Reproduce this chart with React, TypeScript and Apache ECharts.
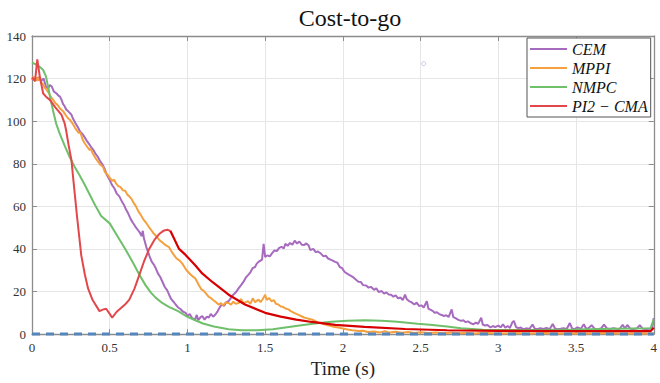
import React, { useEffect, useRef } from "react";
import * as echarts from "echarts";

// Cost-to-go traces over time, [time s, cost]
const cemData: number[][] = [
  [0, 120], [0.02, 119], [0.04, 120.5], [0.06, 119], [0.075, 120], [0.09, 116], [0.105, 115.5],
  [0.115, 117], [0.127, 116.3], [0.14, 114], [0.158, 113], [0.17, 112], [0.18, 111.5], [0.19, 110],
  [0.2, 108], [0.21, 107], [0.22, 105.5], [0.235, 104.5], [0.254, 103], [0.265, 101], [0.28, 99],
  [0.296, 97], [0.31, 95], [0.325, 94], [0.339, 92.4], [0.355, 90.5], [0.37, 89], [0.38, 87.8],
  [0.395, 86.5], [0.41, 84.5], [0.424, 83.2], [0.44, 81], [0.455, 79.5], [0.466, 77.8], [0.48, 75],
  [0.5, 72.4], [0.515, 70], [0.53, 68.5], [0.545, 66], [0.562, 64.7], [0.58, 62], [0.593, 60.5],
  [0.605, 58.5], [0.62, 56.5], [0.635, 54], [0.648, 52.4], [0.665, 50.5], [0.68, 49], [0.695, 47.5],
  [0.705, 46], [0.713, 48.5], [0.72, 45], [0.735, 41], [0.754, 37], [0.77, 34], [0.785, 32.5],
  [0.797, 30.8], [0.81, 28.5], [0.825, 26.8], [0.839, 24.6], [0.855, 22], [0.87, 20.5], [0.882, 18.5],
  [0.895, 16.5], [0.91, 15.2], [0.924, 13.9], [0.94, 12.5], [0.955, 11.8], [0.97, 10.6], [0.988, 10],
  [1.0, 8.5], [1.015, 9.5], [1.03, 7.5], [1.05, 6.9], [1.06, 9], [1.07, 6.5], [1.085, 8], [1.095, 8.5],
  [1.11, 6.8], [1.125, 8.2], [1.137, 7.7], [1.15, 9.5], [1.165, 8.2], [1.18, 9.2], [1.195, 10.8],
  [1.21, 12.8], [1.22, 13.9], [1.235, 13.2], [1.25, 15], [1.265, 15.4], [1.28, 17], [1.295, 18.5],
  [1.31, 19.5], [1.33, 21.6], [1.345, 23], [1.36, 24.5], [1.375, 26.5], [1.39, 27.7], [1.405, 29],
  [1.42, 31], [1.435, 31.5], [1.445, 33], [1.457, 33.9], [1.47, 34.5], [1.48, 35], [1.49, 42.4],
  [1.5, 36.2], [1.515, 37], [1.53, 36.5], [1.545, 38], [1.56, 39.3], [1.575, 39], [1.59, 40.5],
  [1.605, 41], [1.62, 40.2], [1.63, 42.4], [1.645, 41.5], [1.66, 42.8], [1.675, 42], [1.69, 43.9],
  [1.705, 42.5], [1.72, 43.5], [1.735, 42], [1.75, 41.8], [1.765, 42.6], [1.78, 41.6], [1.79, 39.5],
  [1.81, 40], [1.825, 38.5], [1.84, 38.8], [1.86, 37.7], [1.875, 36.5], [1.89, 36.8], [1.905, 35.5],
  [1.92, 35], [1.935, 34.5], [1.95, 33.9], [1.965, 33.5], [1.98, 31.5], [1.995, 31], [2.01, 29.3],
  [2.025, 28.5], [2.04, 27.8], [2.055, 27.2], [2.07, 26.5], [2.085, 25.5], [2.1, 24.6], [2.115, 24.5],
  [2.13, 23], [2.15, 22.8], [2.165, 21.8], [2.18, 22.2], [2.2, 20.8], [2.215, 21.5], [2.23, 19.8],
  [2.25, 20.2], [2.265, 19], [2.28, 19.6], [2.295, 18.6], [2.31, 18.5], [2.325, 17.6], [2.34, 18.2],
  [2.355, 16.8], [2.37, 17.2], [2.385, 16], [2.4, 18.5], [2.41, 16.5], [2.425, 15.5], [2.44, 15],
  [2.46, 13.9], [2.475, 14.8], [2.49, 13.2], [2.505, 13.5], [2.52, 12.5], [2.54, 15.4], [2.55, 12],
  [2.565, 11.4], [2.58, 10.8], [2.59, 10], [2.605, 10.3], [2.62, 9.4], [2.635, 9], [2.65, 8.5],
  [2.665, 8.9], [2.68, 8], [2.7, 11.6], [2.71, 8], [2.725, 7.5], [2.74, 6.8], [2.76, 6.2], [2.775, 6.5],
  [2.79, 5.6], [2.805, 6], [2.82, 5.2], [2.84, 4.6], [2.855, 5.4], [2.87, 4.8], [2.89, 7.7], [2.9, 4.5],
  [2.915, 4], [2.93, 4.3], [2.95, 3.1], [2.965, 3.8], [2.98, 3.3], [3.0, 4], [3.015, 3.2], [3.03, 4.6],
  [3.045, 3], [3.06, 3.8], [3.075, 2.9], [3.09, 5.5], [3.1, 6.2], [3.115, 3.2], [3.13, 2.8], [3.145, 3.1],
  [3.16, 2.3], [3.18, 2.7], [3.2, 2.4], [3.22, 4.5], [3.235, 2.5], [3.25, 2.3], [3.27, 2.8], [3.29, 2.4],
  [3.31, 2.9], [3.33, 2.3], [3.35, 4.8], [3.365, 2.6], [3.38, 2.3], [3.4, 2.5], [3.42, 2.8], [3.44, 2.4],
  [3.46, 5.2], [3.475, 2.6], [3.49, 2.3], [3.51, 3.2], [3.53, 2.4], [3.55, 4.6], [3.565, 2.5], [3.58, 2.8],
  [3.6, 4.2], [3.62, 2.5], [3.64, 2.3], [3.66, 2.6], [3.68, 4.5], [3.7, 2.6], [3.72, 2.4], [3.74, 2.8],
  [3.76, 2.5], [3.78, 2.4], [3.8, 4.4], [3.815, 2.6], [3.83, 4.3], [3.85, 2.5], [3.87, 2.4], [3.89, 2.6],
  [3.91, 4.2], [3.93, 2.5], [3.95, 2.4], [3.97, 2.5], [3.99, 2.5], [4.0, 7.5],
];

const mppiData: number[][] = [
  [0, 119.5], [0.01, 121], [0.02, 118.5], [0.03, 120.5], [0.04, 119], [0.05, 121], [0.06, 118],
  [0.07, 117.5], [0.08, 116], [0.094, 114.7], [0.11, 113], [0.12, 111.5], [0.136, 110], [0.15, 108.5],
  [0.165, 107.5], [0.18, 106], [0.2, 104.7], [0.215, 103], [0.23, 101.5], [0.245, 100.5], [0.264, 98.6],
  [0.28, 96.5], [0.29, 95.5], [0.3, 94.5], [0.31, 94.8], [0.328, 91], [0.34, 89.5], [0.355, 88],
  [0.37, 86.5], [0.38, 86.8], [0.392, 84.7], [0.41, 82.5], [0.425, 81], [0.44, 79.5], [0.456, 78.6],
  [0.47, 76], [0.488, 74.7], [0.5, 73.5], [0.515, 72], [0.528, 72.5], [0.54, 70.8], [0.555, 69.5],
  [0.57, 69], [0.585, 67.5], [0.6, 67.3], [0.613, 65.5], [0.626, 64.7], [0.64, 63.5], [0.655, 61.5],
  [0.669, 60], [0.685, 57.5], [0.7, 56], [0.715, 54], [0.733, 52.4], [0.75, 50.5], [0.765, 49],
  [0.78, 47.5], [0.797, 46.2], [0.81, 45], [0.825, 43.8], [0.84, 43], [0.855, 42], [0.87, 41.3],
  [0.882, 40.8], [0.9, 38.5], [0.915, 37], [0.93, 35.5], [0.95, 34.5], [0.967, 33.1], [0.985, 31],
  [1.0, 29.5], [1.02, 28], [1.035, 27], [1.05, 26.2], [1.073, 23.1], [1.09, 21], [1.105, 20.3],
  [1.12, 19], [1.137, 17.5], [1.15, 17], [1.165, 16], [1.18, 15.2], [1.2, 13.9], [1.215, 14.5],
  [1.23, 13.5], [1.245, 14.8], [1.265, 14.6], [1.28, 13.8], [1.295, 15.2], [1.31, 14.2], [1.33, 14.6],
  [1.345, 16.5], [1.36, 14.5], [1.375, 15], [1.39, 15.4], [1.405, 14.2], [1.42, 16.8], [1.435, 15],
  [1.457, 16.2], [1.47, 15], [1.485, 16.5], [1.5, 18.5], [1.51, 16], [1.525, 17], [1.54, 15.4],
  [1.555, 16], [1.57, 14.2], [1.585, 13.9], [1.6, 13], [1.615, 12.8], [1.63, 12], [1.65, 11.6],
  [1.665, 10.8], [1.68, 10.2], [1.7, 9.5], [1.715, 9], [1.73, 8.5], [1.75, 7.8], [1.765, 7.5],
  [1.78, 7.2], [1.8, 6.9], [1.82, 6.2], [1.84, 5.5], [1.86, 5.2], [1.88, 4.6], [1.9, 4.2], [1.92, 3.9],
  [1.94, 3.4], [1.97, 3.1], [2.0, 2.6], [2.03, 2.2], [2.06, 1.8], [2.1, 1.5], [2.13, 1.6], [2.16, 1.0],
  [2.2, 1.2], [2.24, 0.8], [2.27, 1.3], [2.3, 0.7], [2.34, 1.1], [2.38, 0.6], [2.42, 1.0], [2.46, 0.5],
  [2.5, 0.9], [2.55, 0.5], [2.6, 0.8], [2.65, 0.4], [2.7, 0.7], [2.75, 0.4], [2.8, 0.6], [2.85, 0.3],
  [2.9, 0.6], [3.0, 0.3], [3.1, 0.5], [3.2, 0.3], [3.3, 0.5], [3.4, 0.3], [3.5, 0.4], [3.6, 0.3],
  [3.7, 0.5], [3.8, 0.3], [3.9, 0.4], [4.0, 0.3],
];

const nmpcData: number[][] = [
  [0, 127.5], [0.03, 126.5], [0.05, 125.5], [0.072, 124], [0.09, 121], [0.104, 116], [0.12, 110],
  [0.136, 104.8], [0.155, 99], [0.179, 94], [0.21, 88.5], [0.243, 83], [0.275, 78.5], [0.307, 74.5],
  [0.34, 70], [0.375, 65], [0.41, 60], [0.445, 55.5], [0.5, 52], [0.55, 46], [0.6, 40], [0.65, 33.5],
  [0.69, 28], [0.73, 23], [0.765, 19.5], [0.797, 17], [0.84, 14.5], [0.88, 12.8], [0.94, 10.8],
  [0.99, 8.5], [1.05, 6.5], [1.1, 5], [1.17, 3.6], [1.265, 2.3], [1.35, 1.8], [1.45, 1.8], [1.55, 2.3],
  [1.71, 3.9], [1.82, 5.0], [1.925, 5.8], [2.03, 6.3], [2.14, 6.5], [2.25, 6.3], [2.35, 5.8],
  [2.48, 4.9], [2.56, 4.4], [2.67, 3.6], [2.76, 2.8], [2.9, 2.1], [3.1, 1.9], [3.3, 2.0], [3.5, 2.2],
  [3.75, 2.5], [3.98, 2.8], [4.0, 7],
];

const pi2RiseData: number[][] = [
  [0, 120.5], [0.02, 119], [0.034, 129], [0.05, 121], [0.072, 113], [0.09, 111.5], [0.115, 110],
  [0.15, 106.5], [0.19, 103], [0.21, 99], [0.22, 95.5], [0.235, 89], [0.254, 81.6], [0.264, 74],
  [0.29, 55], [0.317, 37], [0.34, 28], [0.36, 21.6], [0.39, 16], [0.434, 10.8], [0.455, 11.5],
  [0.477, 11.9], [0.5, 9.5], [0.516, 7.7], [0.545, 10.5], [0.573, 12.3], [0.6, 14], [0.626, 16.2],
  [0.66, 21.5], [0.69, 27.7], [0.72, 34], [0.754, 40], [0.79, 44.5], [0.818, 47], [0.845, 48.5],
  [0.871, 49], [0.89, 48.5],
];

const pi2DecayData: number[][] = [
  [0.89, 48.5], [0.946, 40], [0.988, 37.2], [1.05, 32.3], [1.095, 28.5], [1.158, 24.6], [1.265, 18.5],
  [1.37, 13.9], [1.5, 10], [1.6, 8.2], [1.7, 6.8], [1.8, 5.7], [1.95, 4.3], [2.14, 3.4], [2.4, 2.4],
  [2.67, 1.8], [3.0, 1.5], [3.5, 1.4], [3.98, 1.4], [4.0, 3],
];

const zeroRefData: number[][] = [[0, 0], [4, 0]];
const strayPoint: number[][] = [[2.52, 127]];

const seriesNames = ["CEM", "MPPI", "NMPC", "PI2 \u2212 CMA"];
const seriesColors = ["#a66bbf", "#f5a03f", "#6fbf6b", "#e2474b"];
const decayColor = "#d70000";

const xTicks = { min: 0, max: 4, interval: 0.5 };
const yTicks = { min: 0, max: 140, interval: 20 };

const serif = "Liberation Serif";
const axisGray = "#8c8c8c";

export default function App() {
  const ref = useRef<HTMLDivElement>(null);

  useEffect(() => {
    if (!ref.current) return;
    const chart = echarts.init(ref.current, undefined, { renderer: "svg" });

    const axisLine = { show: true, onZero: false, lineStyle: { color: axisGray, width: 1.3 } };
    const tick = { show: true, inside: true, length: 5, lineStyle: { color: axisGray, width: 1 } };
    const label = { color: "#333", fontFamily: serif, fontSize: 13 };
    const split = { show: true, lineStyle: { color: "#e6e6e6", width: 1 } };

    const lineSeries = (name: string, data: number[][], color: string, z: number) => ({
      name,
      type: "line",
      data,
      showSymbol: false,
      symbol: "none",
      color,
      lineStyle: { color, width: 2 },
      z,
    });

    chart.setOption({
      animation: false,
      backgroundColor: "#ffffff",
      title: {
        text: "Cost-to-go",
        left: 345,
        top: 1,
        textAlign: "center",
        textStyle: { fontFamily: serif, fontSize: 24, fontWeight: "normal", color: "#111" },
      },
      grid: { left: 32, right: 2, top: 36, bottom: 43, containLabel: false },
      legend: {
        data: seriesNames,
        orient: "vertical",
        left: 527,
        top: 38,
        icon: "rect",
        itemWidth: 37,
        itemHeight: 2,
        itemGap: 3,
        padding: [3, 3, 3, 3],
        backgroundColor: "#ffffff",
        borderColor: "#555",
        borderWidth: 1,
        borderRadius: 0,
        textStyle: {
          fontFamily: serif,
          fontStyle: "italic",
          fontSize: 16,
          lineHeight: 14,
          color: "#111",
        },
      },
      xAxis: [
        {
          type: "value",
          ...xTicks,
          position: "bottom",
          axisLine,
          axisTick: tick,
          axisLabel: { ...label, margin: 7 },
          splitLine: split,
          name: "Time (s)",
          nameLocation: "middle",
          nameGap: 22,
          nameTextStyle: { fontFamily: serif, fontSize: 19, color: "#222" },
        },
        {
          type: "value",
          ...xTicks,
          position: "top",
          axisLine,
          axisTick: tick,
          axisLabel: { show: false },
          splitLine: { show: false },
        },
      ],
      yAxis: [
        {
          type: "value",
          ...yTicks,
          position: "left",
          axisLine,
          axisTick: tick,
          axisLabel: { ...label, margin: 6 },
          splitLine: split,
        },
        {
          type: "value",
          ...yTicks,
          position: "right",
          axisLine,
          axisTick: tick,
          axisLabel: { show: false },
          splitLine: { show: false },
        },
      ],
      series: [
        lineSeries(seriesNames[0], cemData, seriesColors[0], 2),
        lineSeries(seriesNames[1], mppiData, seriesColors[1], 3),
        lineSeries(seriesNames[2], nmpcData, seriesColors[2], 4),
        lineSeries(seriesNames[3], pi2RiseData, seriesColors[3], 5),
        {
          ...lineSeries("PI2 decay", pi2DecayData, decayColor, 6),
          lineStyle: { color: decayColor, width: 2.2 },
        },
        {
          name: "zero",
          type: "line",
          data: zeroRefData,
          showSymbol: false,
          symbol: "none",
          clip: false,
          lineStyle: { color: "#5587bd", width: 3, type: [8, 6] },
          z: 7,
        },
        {
          name: "stray",
          type: "scatter",
          data: strayPoint,
          symbolSize: 4,
          itemStyle: { color: "rgba(255,255,255,0)", borderColor: "#bdb6dc", borderWidth: 1 },
          z: 1,
        },
      ],
    });

    return () => chart.dispose();
  }, []);

  return (
    <div
      ref={ref}
      style={{ position: "fixed", left: 0, top: 0, width: 660, height: 383 }}
    />
  );
}
